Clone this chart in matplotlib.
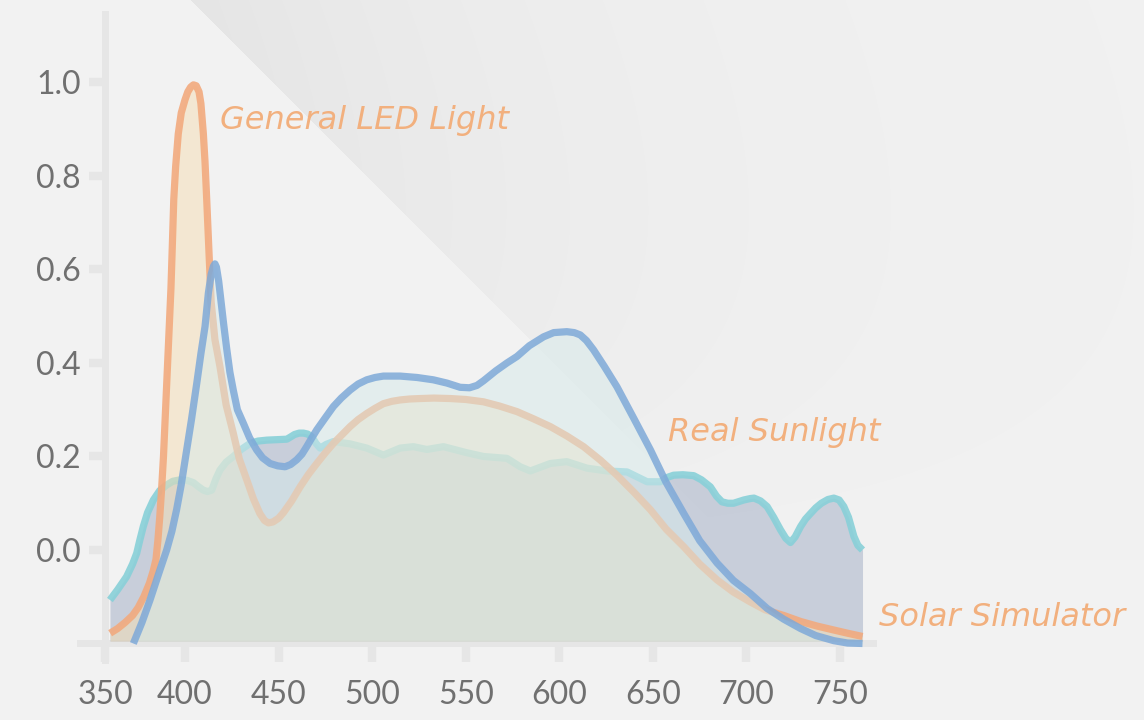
import matplotlib.pyplot as plt
import numpy as np

# wavelengths (nm) and relative intensity
led_wl = [360, 364, 368, 372, 375, 378, 381, 383, 384.5, 385.5, 386.5, 387.5, 388.5, 389.5,
          390.5, 391.5, 392.5, 393.3, 394, 395, 396.4, 398, 400, 401.5, 403, 404.5, 406,
          407.5, 408.5, 409.8, 410.7, 411.6, 413, 414, 416, 418.7, 422, 425.8, 429, 433,
          436.5, 440, 442.5, 444.6, 447, 450, 452.6, 457, 461.5, 466, 470.4, 475, 479.3, 484,
          488.2, 492.5, 497.1, 501.5, 506, 510.5, 515, 520, 525.7, 533, 541.7, 550, 559.5,
          568, 577.4, 586, 595.2, 604, 613, 622, 630.8, 640, 648.7, 657, 666.5, 675, 684.3,
          693, 702, 710, 719.9, 729, 738, 746.5, 754, 762]
led_val = [-0.178, -0.168, -0.155, -0.14, -0.123, -0.1, -0.071, -0.045, -0.02, 0.02, 0.07,
           0.13, 0.2, 0.29, 0.38, 0.47, 0.56, 0.66, 0.75, 0.82, 0.89, 0.935, 0.963, 0.98, 0.99,
           0.995, 0.993, 0.98, 0.955, 0.891, 0.83, 0.75, 0.62, 0.53, 0.45, 0.392, 0.31, 0.25,
           0.195, 0.15, 0.11, 0.078, 0.063, 0.058, 0.06, 0.068, 0.08, 0.105, 0.135, 0.162,
           0.185, 0.208, 0.228, 0.247, 0.264, 0.279, 0.292, 0.303, 0.313, 0.318, 0.321, 0.323,
           0.324, 0.325, 0.324, 0.322, 0.317, 0.308, 0.296, 0.281, 0.264, 0.244, 0.221, 0.192,
           0.160, 0.123, 0.086, 0.045, 0.007, -0.03, -0.064, -0.09, -0.111, -0.128, -0.14,
           -0.153, -0.163, -0.171, -0.178, -0.185]

sim_wl = [372.4, 377, 381.3, 386, 390.2, 393, 395.5, 398, 400.9, 403.5, 406.3, 408.5, 410.7,
          412.5, 414, 415.2, 416, 416.8, 418, 419.3, 420.6, 422.3, 424, 425.8, 428, 431.2,
          434.5, 438.3, 441.5, 445.5, 449.5, 453.5, 456.5, 459.7, 462.5, 465, 467.5, 470.4,
          475, 479.3, 483.5, 488.2, 492.5, 497.1, 501.5, 506, 515, 524, 532.7, 540, 547, 552,
          556, 559.5, 566, 572, 577.4, 584, 591.6, 597, 604, 608, 611.2, 614.5, 618.3, 624,
          630.8, 640, 648.7, 657, 666.5, 675, 684.3, 693, 702, 711, 719.9, 728.9, 737, 746.7,
          754, 762]
sim_val = [-0.2, -0.155, -0.107, -0.05, 0.0, 0.04, 0.086, 0.14, 0.214, 0.28, 0.357, 0.42,
           0.478, 0.55, 0.59, 0.607, 0.612, 0.605, 0.575, 0.53, 0.485, 0.43, 0.38, 0.342, 0.3,
           0.271, 0.24, 0.214, 0.197, 0.185, 0.18, 0.178, 0.183, 0.193, 0.205, 0.221, 0.238,
           0.257, 0.283, 0.307, 0.325, 0.342, 0.355, 0.364, 0.369, 0.372, 0.372, 0.369, 0.364,
           0.357, 0.348, 0.347, 0.352, 0.362, 0.383, 0.4, 0.414, 0.437, 0.456, 0.465, 0.467,
           0.465, 0.46, 0.448, 0.428, 0.393, 0.349, 0.28, 0.214, 0.145, 0.078, 0.02, -0.028,
           -0.065, -0.093, -0.125, -0.148, -0.168, -0.183, -0.194, -0.199, -0.2]

sun_wl = [359.9, 364, 368.8, 372, 374.2, 375.8, 377.7, 380, 383.1, 386.5, 390.2, 393.5, 397.3,
          401, 404.5, 407, 409.8, 412, 414.3, 416.5, 418.7, 422, 425.8, 430, 434.8, 439, 443.7,
          449, 454.4, 456.5, 458.5, 461, 463.3, 465.5, 467.8, 470, 472.2, 475.5, 479.3, 488.2,
          497.1, 506, 515, 522, 529.2, 538.1, 550.6, 559.5, 572, 579.1, 584.5, 595.2, 604,
          614.8, 625.5, 636.2, 646.9, 654, 657.5, 661.1, 666, 671.8, 676, 680.7, 684, 686.9,
          690, 693.1, 698.6, 702, 704, 707.5, 711, 714.5, 718.2, 721, 723.5, 726, 728.9, 731.5,
          734.2, 737, 740, 743.5, 746.7, 749.5, 752, 754.5, 757.4, 759.5, 762]
sun_val = [-0.107, -0.085, -0.057, -0.03, -0.007, 0.02, 0.05, 0.08, 0.107, 0.127, 0.139,
           0.147, 0.15, 0.149, 0.144, 0.136, 0.128, 0.125, 0.128, 0.152, 0.171, 0.188, 0.2,
           0.215, 0.228, 0.233, 0.235, 0.236, 0.237, 0.242, 0.247, 0.25, 0.25, 0.248, 0.242,
           0.228, 0.218, 0.226, 0.232, 0.227, 0.218, 0.203, 0.218, 0.221, 0.215, 0.221, 0.208,
           0.2, 0.196, 0.178, 0.169, 0.185, 0.189, 0.175, 0.169, 0.167, 0.146, 0.146, 0.155,
           0.16, 0.161, 0.159, 0.15, 0.135, 0.115, 0.103, 0.1, 0.1, 0.107, 0.11, 0.111, 0.105,
           0.093, 0.07, 0.043, 0.025, 0.016, 0.028, 0.05, 0.066, 0.078, 0.09, 0.1, 0.108,
           0.111, 0.107, 0.093, 0.07, 0.029, 0.01, 0.0]

x_ticks = [357.3, 400, 450, 500, 550, 600, 650, 700, 750]
x_labels = ['350', '400', '450', '500', '550', '600', '650', '700', '750']
y_ticks = [0.0, 0.2, 0.4, 0.6, 0.8, 1.0]
y_labels = ['0.0', '0.2', '0.4', '0.6', '0.8', '1.0']

base = -0.195

fig = plt.figure(figsize=(11.44, 7.2), dpi=100)
fig.patch.set_facecolor('#f2f2f2')

# soft diagonal shade in the background
W, H = 1144, 720
xx, yy = np.meshgrid(np.arange(W), np.arange(H))
d = xx - 190 - yy
shade = np.where(d > 0, 13 * np.exp(-d / 350) * np.clip(1 - yy / 560, 0, 1), 0)
img = np.dstack([(242 - shade) / 255] * 3)
bg = fig.add_axes([0, 0, 1, 1], zorder=0)
bg.imshow(img, aspect='auto', interpolation='bilinear')
bg.axis('off')

ax = fig.add_axes([80 / W, (H - 660) / H, (873 - 80) / W, (660 - 14) / H], zorder=1)
ax.patch.set_alpha(0)
ax.set_xlim(343.9, 767.6)
ax.set_ylim(-0.2353, 1.1465)

kw = dict(lw=5.2, solid_joinstyle='round', solid_capstyle='butt')
ax.fill_between(sun_wl, sun_val, base, color='#a0acc4', alpha=0.5, lw=0, zorder=1)
ax.plot(sun_wl, sun_val, color='#88d0d8', alpha=0.9, zorder=2, **kw)
ax.fill_between(led_wl, led_val, base, color='#f4deb4', alpha=0.5, lw=0, zorder=3)
ax.plot(led_wl, led_val, color='#f2aa7e', alpha=0.9, zorder=4, **kw)
ax.fill_between(sim_wl, sim_val, base, color='#d6eaea', alpha=0.5, lw=0, zorder=5)
ax.plot(sim_wl, sim_val, color='#7ea9d8', alpha=0.85, zorder=6, **kw)

lab = dict(color='#f2b07e', fontsize=23, family='DejaVu Sans', style='oblique',
           va='center', ha='left')
ax.text(418.7, 0.918, 'General LED Light', **lab)
ax.text(658.3, 0.252, 'Real Sunlight', **lab)
ax.text(770.6, -0.145, 'Solar Simulator', **lab)

for s in ['top', 'right']:
    ax.spines[s].set_visible(False)
ax.spines['left'].set_position(('data', 357.3))
ax.spines['bottom'].set_position(('data', -0.2))
for s in ['left', 'bottom']:
    ax.spines[s].set_color('#e6e6e6')
    ax.spines[s].set_linewidth(5)
    ax.spines[s].set_zorder(0.5)

ax.set_xticks(x_ticks, x_labels)
ax.set_yticks(y_ticks, y_labels)
ax.tick_params(axis='x', length=14, width=6, color='#e6e6e6', pad=12, labelsize=23,
               labelcolor='#707070')
ax.tick_params(axis='y', length=11.5, width=6, color='#e6e6e6', pad=6, labelsize=23,
               labelcolor='#707070')
for t in ax.get_xticklabels() + ax.get_yticklabels():
    t.set_family('Lato')

fig.savefig('out.png', dpi=100, facecolor=fig.get_facecolor())
